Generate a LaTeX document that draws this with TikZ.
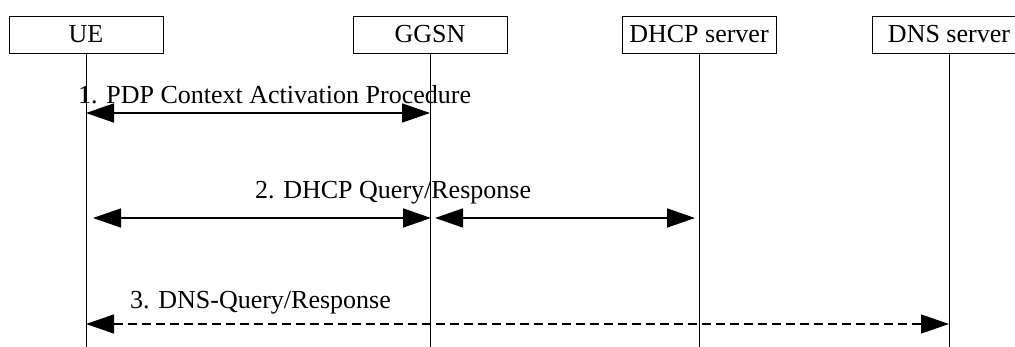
\documentclass[tikz,border=0pt]{standalone}
\usepackage{fontspec}
\setmainfont{Liberation Serif}
\usetikzlibrary{arrows.meta}
\begin{document}
\begin{tikzpicture}[x=1pt, y=-1pt, font=\fontsize{26}{30}\selectfont,
  entity/.style={draw, line width=0.9pt, minimum width=154pt, minimum height=37pt, inner sep=0pt},
  lifeline/.style={line width=0.8pt},
  msg/.style={line width=1.6pt, {Triangle[length=28pt,width=19pt]}-{Triangle[length=28pt,width=19pt]}},
  msglabel/.style={anchor=west, inner sep=0pt}]
\useasboundingbox (0,0) rectangle (1015,347);
\node[entity] (ue)   at (86,  34.5) {UE};
\node[entity] (ggsn) at (430, 34.5) {GGSN};
\node[entity] (dhcp) at (699, 34.5) {DHCP server};
\node[entity] (dns)  at (949, 34.5) {DNS server};
\coordinate (bottom) at (0, 347);
\foreach \n in {ue, ggsn, dhcp, dns}
  \draw[lifeline] (\n.south) -- (\n.south |- bottom);

%%%%%%%%%%%%%%%%%%%%%%%%%%%%%%%%%%%%%%%%

\coordinate (m1a) at (86, 113);
\coordinate (m1b) at (430, 113);
\draw[msg] (m1a) -- (m1b);
\node[msglabel] (l1) at (78, 95) {1. PDP Context Activation Procedure};

\coordinate (m2a) at (93, 218);
\coordinate (m2b) at (431, 218);
\coordinate (m2c) at (435, 218);
\coordinate (m2d) at (695, 218);
\draw[msg] (m2a) -- (m2b);
\draw[msg] (m2c) -- (m2d);
\node[msglabel] (l2) at (255, 193) {2. DHCP Query/Response};

\coordinate (m3a) at (86, 324);
\coordinate (m3b) at (949, 324);
\draw[msg, line width=1.3pt, dash pattern=on 9pt off 5pt] (m3a) -- (m3b);
\node[msglabel] (l3) at (130, 303) {3. DNS-Query/Response};
\end{tikzpicture}
\end{document}
